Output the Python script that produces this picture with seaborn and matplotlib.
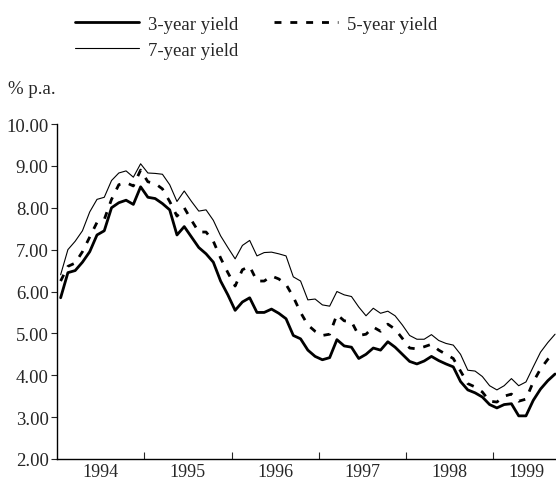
import numpy as np
import pandas as pd
import matplotlib
matplotlib.use("Agg")
import matplotlib.pyplot as plt
import seaborn as sns

# monthly yields, Jan 1994 - Sep 1999 (% p.a.)
months = pd.period_range("1994-01", "1999-09", freq="M")

yield_3y = [5.85, 6.45, 6.50, 6.70, 6.95, 7.35, 7.45, 8.00, 8.12, 8.18, 8.08, 8.50,
            8.25, 8.22, 8.10, 7.95, 7.35, 7.55, 7.30, 7.05, 6.90, 6.70, 6.25, 5.92,
            5.55, 5.75, 5.85, 5.50, 5.50, 5.58, 5.48, 5.35, 4.95, 4.87, 4.60, 4.45,
            4.37, 4.42, 4.85, 4.70, 4.67, 4.40, 4.50, 4.65, 4.60, 4.80, 4.67, 4.50,
            4.33, 4.27, 4.34, 4.45, 4.35, 4.27, 4.20, 3.85, 3.65, 3.58, 3.48, 3.30,
            3.22, 3.30, 3.32, 3.03, 3.03, 3.40, 3.67, 3.87, 4.03]

yield_5y = [6.25, 6.60, 6.68, 6.95, 7.30, 7.65, 7.72, 8.20, 8.55, 8.60, 8.52, 8.90,
            8.62, 8.58, 8.45, 8.15, 7.80, 8.00, 7.70, 7.42, 7.42, 7.20, 6.80, 6.45,
            6.13, 6.52, 6.60, 6.25, 6.25, 6.37, 6.30, 6.17, 5.87, 5.50, 5.20, 5.05,
            4.95, 4.98, 5.45, 5.30, 5.28, 4.95, 4.98, 5.15, 5.05, 5.22, 5.10, 4.88,
            4.65, 4.63, 4.68, 4.74, 4.60, 4.50, 4.40, 4.10, 3.80, 3.72, 3.60, 3.38,
            3.36, 3.50, 3.55, 3.38, 3.43, 3.84, 4.15, 4.38, 4.52]

yield_7y = [6.40, 7.00, 7.20, 7.45, 7.90, 8.20, 8.25, 8.65, 8.83, 8.88, 8.73, 9.05,
            8.83, 8.82, 8.80, 8.55, 8.15, 8.40, 8.15, 7.92, 7.95, 7.70, 7.33, 7.05,
            6.78, 7.10, 7.22, 6.85, 6.93, 6.94, 6.90, 6.85, 6.35, 6.25, 5.80, 5.82,
            5.68, 5.65, 6.00, 5.92, 5.88, 5.63, 5.42, 5.60, 5.48, 5.53, 5.42, 5.20,
            4.95, 4.86, 4.86, 4.97, 4.83, 4.76, 4.72, 4.50, 4.12, 4.10, 3.97, 3.75,
            3.65, 3.75, 3.92, 3.75, 3.84, 4.20, 4.55, 4.78, 4.98]

years = [1994, 1995, 1996, 1997, 1998, 1999]
year_label_pos = [1994.5, 1995.5, 1996.5, 1997.5, 1998.5, 1999.38]
y_ticks = [2, 3, 4, 5, 6, 7, 8, 9, 10]

df = pd.DataFrame({
    "t": [p.year + (p.month - 0.5) / 12 for p in months],
    "y3": yield_3y,
    "y5": yield_5y,
    "y7": yield_7y,
})

sns.set_style("white")
plt.rcParams["font.family"] = ["Liberation Serif", "DejaVu Serif"]
plt.rcParams["font.size"] = 13.5

fig = plt.figure(figsize=(5.56, 4.85), dpi=100)
ax = fig.add_axes([57 / 556, 25 / 485, 499 / 556, 335 / 485])

sns.lineplot(data=df, x="t", y="y3", ax=ax, color="black", lw=2.0, label="3-year yield")
sns.lineplot(data=df, x="t", y="y7", ax=ax, color="black", lw=0.8, label="7-year yield")
sns.lineplot(data=df, x="t", y="y5", ax=ax, color="black", lw=2.0,
             linestyle=(0, (2.5, 3.2)), label="5-year yield")

ax.set_xlim(1994, 1994 + 499 / 87.25)
ax.set_ylim(2, 10)
ax.set_xlabel("")
ax.set_ylabel("")

ax.set_yticks(y_ticks)
ax.set_yticklabels([f"{v:.2f}" for v in y_ticks])
ax.tick_params(axis="y", direction="out", length=4, width=0.8, pad=2, left=True)

ax.set_xticks(years[1:])
ax.set_xticklabels([])
ax.set_xticks(year_label_pos, minor=True)
ax.set_xticklabels([str(y) for y in years], minor=True, fontsize=13)
ax.tick_params(axis="x", which="major", direction="in", length=5, width=0.8, bottom=True)
ax.tick_params(axis="x", which="minor", length=0, pad=3)

for s in ["top", "right"]:
    ax.spines[s].set_visible(False)
for s in ["left", "bottom"]:
    ax.spines[s].set_color("black")
    ax.spines[s].set_linewidth(1.0)

handles, labels = ax.get_legend_handles_labels()
ax.get_legend().remove()
fig.legend(handles, labels, ncol=2, frameon=False, loc="upper left",
           bbox_to_anchor=(58 / 556, 1.0), handlelength=3.4, columnspacing=1.9,
           handletextpad=0.5, labelspacing=0.45)

fig.text(8 / 556, 1 - 90 / 485, "% p.a.", ha="left", va="center")

fig.savefig("out.png", dpi=100)
